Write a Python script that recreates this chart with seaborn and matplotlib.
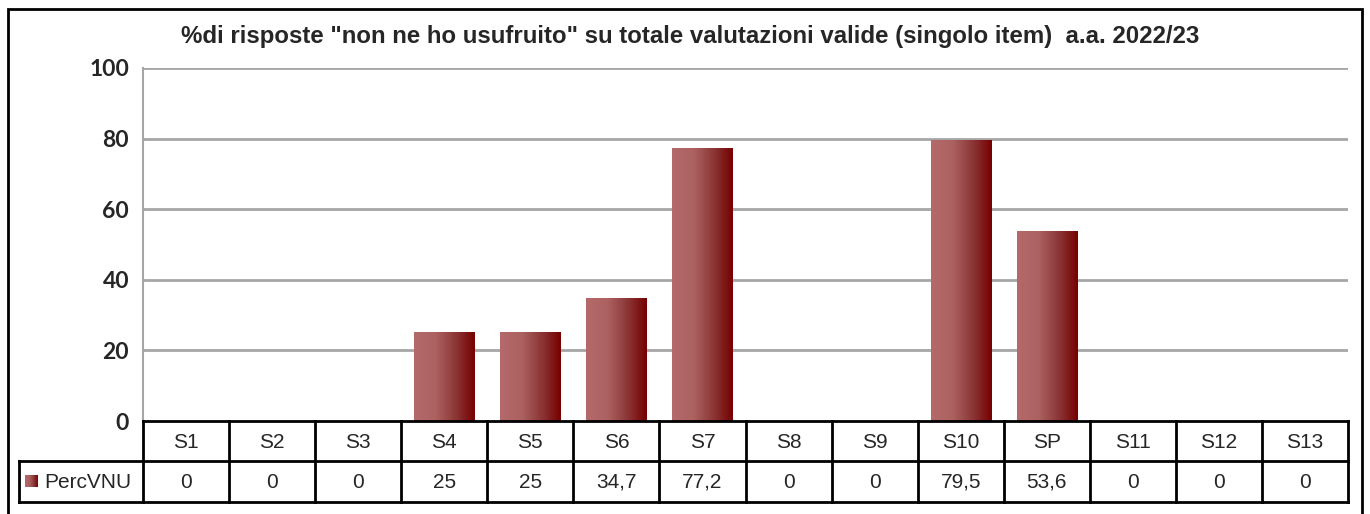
import numpy as np
import pandas as pd
import matplotlib
matplotlib.use("Agg")
import matplotlib.pyplot as plt
from matplotlib.colors import LinearSegmentedColormap
from matplotlib.patches import Rectangle
import seaborn as sns

# ------------------ DATA ------------------
categories = ["S1", "S2", "S3", "S4", "S5", "S6", "S7", "S8", "S9", "S10", "SP", "S11", "S12", "S13"]
values = [0, 0, 0, 25, 25, 34.7, 77.2, 0, 0, 79.5, 53.6, 0, 0, 0]
series_name = "PercVNU"
title = '%di risposte "non ne ho usufruito" su totale valutazioni valide (singolo item)  a.a. 2022/23'
y_ticks = [0, 20, 40, 60, 80, 100]

# ------------------ STYLE ------------------
W, H = 1370, 514
sns.set_style("white")
plt.rcParams["font.family"] = ["Liberation Sans", "DejaVu Sans"]
grad = LinearSegmentedColormap.from_list(
    "bar", [(0, "#b46a6a"), (0.35, "#ad6262"), (0.7, "#8a3434"), (1, "#770000")])
GRID = "#a6a6a6"
TABLE_FS = 15

df = pd.DataFrame({"cat": categories, "val": values})

fig = plt.figure(figsize=(W / 100, H / 100), dpi=100)

# plot area in pixels
x0, x1 = 143, 1348
y_top, y_zero = 68, 421
ax = fig.add_axes([x0 / W, 1 - y_zero / H, (x1 - x0) / W, (y_zero - y_top) / H])

sns.barplot(data=df, x="cat", y="val", ax=ax, width=0.7, color="#9c4a4a", zorder=3)

# gradient fill for each bar
gimg = np.linspace(0, 1, 256).reshape(1, -1)
for p in ax.patches:
    bx, by = p.get_x(), p.get_y()
    bw, bh = p.get_width(), p.get_height()
    p.set_visible(False)
    if bh <= 0:
        continue
    ax.imshow(gimg, cmap=grad, aspect="auto", extent=(bx, bx + bw, by, by + bh),
              zorder=3, interpolation="bicubic")

ax.set_xlim(-0.5, len(categories) - 0.5)
ax.set_ylim(0, 100)
ax.set_yticks(y_ticks)
ax.set_yticklabels([str(t) for t in y_ticks], fontfamily="Lato", fontweight="bold", fontsize=16.5)
ax.tick_params(axis="y", length=8, width=1.5, color=GRID, pad=2)
ax.set_xticks([])
ax.set_xlabel("")
ax.set_ylabel("")
for t in y_ticks[1:]:
    ax.axhline(t, color=GRID, lw=2, zorder=1)
for s in ["top", "right", "bottom"]:
    ax.spines[s].set_visible(False)
ax.spines["left"].set_color(GRID)
ax.spines["left"].set_linewidth(1.5)

# ------------------ DATA TABLE ------------------
def fx(px):
    return px / W

def fy(py):
    return 1 - py / H

row1_top, row1_bot, row2_bot = 421, 461, 502
label_left = 19
col_w = (x1 - x0) / len(categories)
lw = 2
kw = dict(color="black", lw=lw, transform=fig.transFigure, solid_capstyle="projecting")

fig.add_artist(plt.Line2D([fx(x0), fx(x1)], [fy(row1_top)] * 2, **kw))
fig.add_artist(plt.Line2D([fx(label_left), fx(x1)], [fy(row1_bot)] * 2, **kw))
fig.add_artist(plt.Line2D([fx(label_left), fx(x1)], [fy(row2_bot)] * 2, **kw))
fig.add_artist(plt.Line2D([fx(label_left)] * 2, [fy(row1_bot), fy(row2_bot)], **kw))
for i in range(len(categories) + 1):
    xx = x0 + i * col_w
    fig.add_artist(plt.Line2D([fx(xx)] * 2, [fy(row1_top), fy(row2_bot)], **kw))

for i, (c, v) in enumerate(zip(categories, values)):
    cx = x0 + (i + 0.5) * col_w
    fig.text(fx(cx), fy((row1_top + row1_bot) / 2 + 1), c, ha="center", va="center", fontsize=TABLE_FS)
    vs = f"{v:g}".replace(".", ",")
    fig.text(fx(cx), fy((row1_bot + row2_bot) / 2 + 1), vs, ha="center", va="center", fontsize=TABLE_FS)

# legend key in the label cell
kx, ky, ks = 25, 475, 12
key_ax = fig.add_axes([fx(kx), fy(ky + ks), ks / W, ks / H])
key_ax.imshow(gimg, cmap=grad, aspect="auto", interpolation="bicubic")
key_ax.axis("off")
fig.text(fx(44), fy((row1_bot + row2_bot) / 2 + 1), series_name, ha="left", va="center", fontsize=TABLE_FS)

# ------------------ TITLE & FRAME ------------------
fig.text(fx(690), fy(37), title, ha="center", va="center", fontsize=17.3, fontweight="bold")
fig.add_artist(Rectangle((fx(8), fy(H + 5)), fx(1362 - 8), (H + 5 - 9) / H,
                         transform=fig.transFigure, fill=False, ec="black", lw=2))

fig.savefig("out.png", dpi=100)
